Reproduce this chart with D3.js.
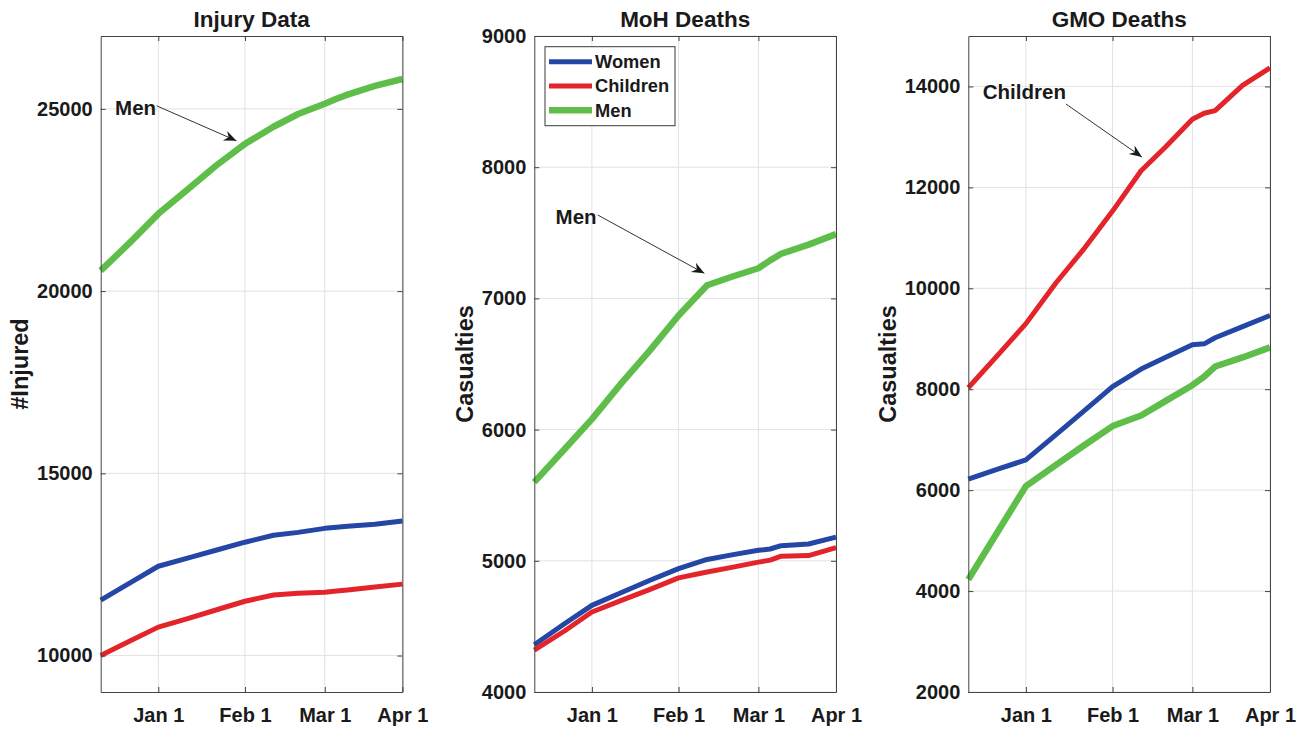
<!DOCTYPE html>
<html>
<head>
<meta charset="utf-8">
<script src="https://cdn.jsdelivr.net/npm/d3@7"></script>
<style>
  body { margin: 0; background: #fff; }
  text { font-family: "Liberation Sans", Arial, Helvetica, sans-serif; font-weight: bold; fill: #1a1a1a; }
</style>
</head>
<body>
<svg id="chart" width="1307" height="729"></svg>
<script>
// Observation days (counted from the first report) shared by every series
const sampleDay = [0, 11, 21, 32, 42, 52.6, 63, 72, 81.7, 86, 90, 100, 110];

// Month markers on the time axis
const xTickDay = [21, 52.6, 81.7, 110];
const xTickLabel = ["Jan 1", "Feb 1", "Mar 1", "Apr 1"];

const seriesNames = ["Women", "Children", "Men"];
const seriesColors = ["#2447a6", "#e3252b", "#5fbe4a"];

// Injury data
const injuryWomen    = [11520, 12010, 12450, 12680, 12890, 13110, 13300, 13380, 13490, 13520, 13550, 13600, 13690];
const injuryChildren = [10000, 10410, 10780, 11020, 11250, 11490, 11660, 11710, 11740, 11770, 11800, 11880, 11960];
const injuryMen      = [20560, 21360, 22120, 22810, 23440, 24040, 24510, 24860, 25140, 25280, 25390, 25630, 25820];
const injuryTicks    = [10000, 15000, 20000, 25000];

// MoH deaths
const mohWomen    = [4360, 4520, 4660, 4760, 4850, 4940, 5010, 5045, 5080, 5090, 5115, 5128, 5180];
const mohChildren = [4320, 4465, 4610, 4700, 4780, 4870, 4915, 4950, 4990, 5005, 5035, 5040, 5100];
const mohMen      = [5600, 5850, 6080, 6360, 6600, 6870, 7100, 7165, 7230, 7290, 7340, 7410, 7490];
const mohTicks    = [4000, 5000, 6000, 7000, 8000, 9000];

// GMO deaths
const gmoWomen    = [6220, 6420, 6600, 7100, 7560, 8050, 8400, 8635, 8880, 8900, 9020, 9240, 9460];
const gmoChildren = [8030, 8690, 9300, 10110, 10770, 11530, 12330, 12805, 13350, 13470, 13520, 14020, 14370];
const gmoMen      = [4230, 5200, 6080, 6500, 6880, 7270, 7480, 7770, 8080, 8250, 8450, 8630, 8830];
const gmoTicks    = [2000, 4000, 6000, 8000, 10000, 12000, 14000];

// Callouts in data units: label anchor, arrow tail, arrow tip
const injuryNote = { text: "Men", at: [20.2, 25043], from: [20.4, 25084], to: [49.5, 24125] };
const mohNote    = { text: "Men", at: [22.7, 7628], from: [23.1, 7636], to: [62.0, 7191] };
const gmoNote    = { text: "Children", at: [35.6, 13910], from: [35.6, 13652], to: [63.3, 12602] };

const panels = [
  { title: "Injury Data", yLabel: "#Injured", yDomain: [9000, 27000], yTicks: injuryTicks,
    series: [injuryWomen, injuryChildren, injuryMen], note: injuryNote, legend: false, left: 100.7 },
  { title: "MoH Deaths", yLabel: "Casualties", yDomain: [4000, 9000], yTicks: mohTicks,
    series: [mohWomen, mohChildren, mohMen], note: mohNote, legend: true, left: 534.3 },
  { title: "GMO Deaths", yLabel: "Casualties", yDomain: [2000, 15000], yTicks: gmoTicks,
    series: [gmoWomen, gmoChildren, gmoMen], note: gmoNote, legend: false, left: 968.3 }
];

const plotW = 301.7, plotTop = 36, plotBottom = 692;
const lineWidths = [5, 5, 6.5];
const svg = d3.select("#chart");

const defs = svg.append("defs");
defs.append("marker")
  .attr("id", "arrowhead")
  .attr("markerUnits", "userSpaceOnUse")
  .attr("viewBox", "-14 -7 16 14")
  .attr("refX", 0).attr("refY", 0)
  .attr("markerWidth", 16).attr("markerHeight", 14)
  .attr("orient", "auto")
  .append("path")
  .attr("d", "M0,0 L-12.5,-5.2 L-8.5,0 L-12.5,5.2 Z")
  .attr("fill", "#1a1a1a");

panels.forEach(p => {
  const x = d3.scaleLinear().domain([0, 110]).range([0, plotW]);
  const y = d3.scaleLinear().domain(p.yDomain).range([plotBottom - plotTop, 0]);
  const h = plotBottom - plotTop;
  const g = svg.append("g").attr("transform", `translate(${p.left},${plotTop})`);

  // grid
  const grid = g.append("g").attr("stroke", "#e2e2e2").attr("stroke-width", 1);
  grid.selectAll("line.v").data(xTickDay).join("line")
    .attr("x1", d => x(d)).attr("x2", d => x(d)).attr("y1", 0).attr("y2", h);
  grid.selectAll("line.h").data(p.yTicks).join("line")
    .attr("x1", 0).attr("x2", plotW).attr("y1", d => y(d)).attr("y2", d => y(d));

  // series lines
  const line = d3.line().x((d, i) => x(sampleDay[i])).y(d => y(d));
  p.series.forEach((vals, k) => {
    g.append("path").datum(vals)
      .attr("d", line)
      .attr("fill", "none")
      .attr("stroke", seriesColors[k])
      .attr("stroke-width", lineWidths[k])
      .attr("stroke-linejoin", "round")
      .attr("stroke-linecap", "butt");
  });

  // axes with inward ticks on all four sides
  const fmt = (d, i) => xTickLabel[i];
  const xb = g.append("g").attr("transform", `translate(0,${h})`)
    .call(d3.axisBottom(x).tickValues(xTickDay).tickFormat(fmt).tickSizeInner(-5).tickSizeOuter(0).tickPadding(16));
  const xt = g.append("g")
    .call(d3.axisTop(x).tickValues(xTickDay).tickFormat("").tickSizeInner(-5).tickSizeOuter(0));
  const yl = g.append("g")
    .call(d3.axisLeft(y).tickValues(p.yTicks).tickFormat(d3.format("d")).tickSizeInner(-5).tickSizeOuter(0).tickPadding(8));
  const yr = g.append("g").attr("transform", `translate(${plotW},0)`)
    .call(d3.axisRight(y).tickValues(p.yTicks).tickFormat("").tickSizeInner(-5).tickSizeOuter(0));
  [xb, xt, yl, yr].forEach(a => {
    a.select(".domain").attr("stroke", "#444").attr("stroke-width", 1);
    a.selectAll(".tick line").attr("stroke", "#444");
    a.selectAll("text").attr("font-size", 20).attr("fill", "#1a1a1a")
      .attr("font-family", "'Liberation Sans', Arial, sans-serif").attr("font-weight", "bold");
  });

  // title
  g.append("text").attr("x", plotW / 2).attr("y", -9)
    .attr("text-anchor", "middle").attr("font-size", 22.5).text(p.title);

  // y label placed beside the tick labels
  const labelsLeft = d3.min(yl.selectAll(".tick text").nodes(), n => n.getBBox().x);
  g.append("text")
    .attr("transform", `translate(${labelsLeft - 9},${h / 2}) rotate(-90)`)
    .attr("text-anchor", "middle").attr("font-size", 23.5).text(p.yLabel);

  // callout
  const n = p.note;
  g.append("line")
    .attr("x1", x(n.from[0])).attr("y1", y(n.from[1]))
    .attr("x2", x(n.to[0])).attr("y2", y(n.to[1]))
    .attr("stroke", "#333").attr("stroke-width", 1)
    .attr("marker-end", "url(#arrowhead)");
  g.append("text").attr("x", x(n.at[0])).attr("y", y(n.at[1]))
    .attr("text-anchor", "end").attr("dominant-baseline", "central")
    .attr("font-size", 20.5).text(n.text);

  // legend
  if (p.legend) {
    const lg = g.append("g").attr("transform", "translate(10.7,10.7)");
    lg.append("rect").attr("width", 130).attr("height", 79)
      .attr("fill", "#fff").attr("stroke", "#3a3a3a").attr("stroke-width", 1);
    seriesNames.forEach((name, k) => {
      const yy = 15 + k * 24.3;
      lg.append("line").attr("x1", 4).attr("x2", 47).attr("y1", yy).attr("y2", yy)
        .attr("stroke", seriesColors[k]).attr("stroke-width", lineWidths[k]);
      lg.append("text").attr("x", 50).attr("y", yy).attr("dominant-baseline", "central")
        .attr("font-size", 18.3).text(name);
    });
  }
});
</script>
</body>
</html>
